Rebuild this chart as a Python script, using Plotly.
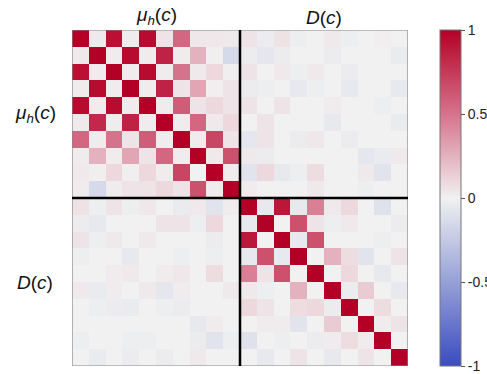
import plotly.graph_objects as go

labels = ["μh(c)", "D(c)"]

# upper-left block (mu_h vs mu_h)
mu_mu = [
    [1.00, 0.03, 0.93, 0.02, 0.95, 0.05, 0.55, 0.04, 0.04, 0.03],
    [0.03, 1.00, 0.02, 0.95, 0.02, 0.85, 0.02, 0.25, 0.01, -0.15],
    [0.93, 0.02, 1.00, 0.02, 0.95, 0.02, 0.50, 0.03, 0.10, 0.01],
    [0.02, 0.95, 0.02, 1.00, 0.02, 0.85, 0.05, 0.30, 0.01, 0.05],
    [0.95, 0.02, 0.95, 0.02, 1.00, 0.02, 0.60, 0.05, 0.10, 0.05],
    [0.03, 0.82, 0.02, 0.85, 0.02, 1.00, 0.02, 0.55, 0.03, 0.10],
    [0.55, 0.02, 0.50, 0.05, 0.60, 0.02, 1.00, 0.02, 0.70, 0.05],
    [0.02, 0.25, 0.02, 0.30, 0.05, 0.55, 0.02, 1.00, 0.03, 0.65],
    [0.03, 0.01, 0.10, 0.01, 0.10, 0.02, 0.70, 0.00, 1.00, 0.02],
    [0.02, -0.15, 0.02, 0.05, 0.05, 0.10, 0.05, 0.65, 0.02, 1.00],
]

# upper-right block (mu_h rows vs D cols)
mu_d = [
    [0.05, -0.03, 0.06, -0.02, 0.00, 0.03, -0.02, 0.00, 0.01, 0.00],
    [-0.03, -0.06, -0.03, 0.00, 0.00, -0.03, 0.00, 0.00, 0.00, -0.04],
    [0.05, 0.00, 0.03, -0.02, 0.03, 0.00, -0.03, 0.00, 0.00, 0.00],
    [-0.03, -0.02, 0.00, -0.05, -0.02, 0.00, -0.05, 0.00, 0.00, -0.05],
    [0.05, 0.00, 0.05, 0.00, 0.00, 0.02, 0.00, 0.00, -0.02, 0.00],
    [0.00, 0.05, 0.00, 0.00, 0.00, -0.05, 0.00, 0.00, 0.00, -0.04],
    [-0.06, 0.05, 0.00, -0.03, 0.04, 0.00, -0.03, 0.00, 0.00, 0.00],
    [0.03, -0.03, 0.00, 0.00, 0.00, 0.00, 0.00, -0.06, -0.04, 0.03],
    [-0.08, 0.10, -0.05, -0.02, 0.08, 0.00, 0.00, 0.03, -0.08, 0.00],
    [0.02, 0.00, 0.00, 0.00, 0.03, 0.00, 0.00, -0.02, 0.00, 0.00],
]

# lower-left block (D rows vs mu_h cols)
d_mu = [
    [0.06, -0.02, 0.05, -0.02, 0.04, 0.00, -0.04, 0.03, -0.08, 0.02],
    [-0.03, -0.05, 0.00, 0.00, 0.00, 0.05, 0.05, -0.02, 0.10, 0.00],
    [0.05, -0.02, 0.03, 0.00, 0.03, 0.00, 0.00, 0.00, -0.03, 0.00],
    [-0.02, 0.00, 0.00, -0.05, 0.00, 0.00, -0.02, 0.00, -0.02, 0.00],
    [0.00, 0.00, 0.02, 0.03, 0.00, 0.02, 0.04, 0.00, 0.08, 0.00],
    [0.03, -0.04, 0.02, 0.00, 0.03, -0.06, 0.02, 0.00, 0.00, 0.03],
    [0.00, -0.02, -0.03, -0.04, 0.00, -0.02, -0.03, 0.00, 0.00, 0.00],
    [0.00, 0.00, 0.00, 0.00, 0.00, 0.00, 0.00, -0.05, 0.02, 0.00],
    [-0.02, 0.00, 0.00, -0.02, -0.02, 0.00, 0.00, -0.03, -0.08, -0.02],
    [0.00, -0.04, 0.00, -0.03, 0.00, -0.03, 0.00, 0.03, 0.00, 0.00],
]

# lower-right block (D vs D)
d_d = [
    [1.00, -0.05, 0.90, -0.05, 0.45, 0.03, 0.10, 0.00, -0.10, 0.00],
    [-0.05, 1.00, 0.00, 0.65, 0.05, -0.02, 0.03, 0.00, 0.00, -0.03],
    [0.90, 0.00, 1.00, -0.05, 0.65, 0.00, 0.00, 0.00, -0.02, 0.00],
    [-0.05, 0.65, -0.05, 1.00, 0.00, 0.25, 0.08, -0.08, 0.00, 0.05],
    [0.45, 0.05, 0.65, 0.00, 1.00, 0.00, 0.10, 0.00, -0.05, 0.00],
    [0.03, -0.02, 0.00, 0.25, 0.00, 1.00, -0.03, 0.15, 0.00, -0.05],
    [0.10, 0.05, 0.00, 0.08, 0.10, -0.03, 1.00, 0.00, 0.08, 0.00],
    [0.00, 0.02, 0.02, -0.08, 0.00, 0.15, 0.00, 1.00, 0.02, 0.05],
    [-0.10, 0.00, -0.02, 0.00, -0.03, 0.02, 0.08, 0.02, 1.00, 0.00],
    [0.00, -0.05, 0.00, 0.05, 0.00, -0.05, 0.00, 0.05, 0.00, 1.00],
]

cb_ticks = [-1, -0.5, 0, 0.5, 1]
cb_ticktext = ["-1", "-0.5", "0", "0.5", "1"]

z = [a + b for a, b in zip(mu_mu, mu_d)] + [a + b for a, b in zip(d_mu, d_d)]
n = len(z)

colorscale = [
    [0.0, "rgb(58,76,192)"],
    [0.25, "rgb(150,160,215)"],
    [0.5, "rgb(241,241,241)"],
    [0.75, "rgb(214,115,140)"],
    [1.0, "rgb(180,0,38)"],
]

fig = go.Figure(go.Heatmap(
    z=z, x=list(range(n)), y=list(range(n)),
    zmin=-1, zmax=1, colorscale=colorscale,
    colorbar=dict(
        x=1.095, xanchor="left", y=0.5, yanchor="middle", len=1, lenmode="fraction",
        thickness=21, xpad=0, ypad=0, outlinewidth=1, outlinecolor="#777",
        tickvals=cb_ticks, ticktext=cb_ticktext, ticks="outside", ticklen=4,
        tickcolor="#555", tickfont=dict(family="Liberation Sans, Arial", size=14, color="#222"),
    ),
))

half = n / 2 - 0.5
fig.add_shape(type="rect", x0=-0.5, x1=n - 0.5, y0=-0.5, y1=n - 0.5,
              line=dict(color="#888", width=1.2))
fig.add_shape(type="line", x0=half, x1=half, y0=-0.5, y1=n - 0.5,
              line=dict(color="black", width=2.5))
fig.add_shape(type="line", x0=-0.5, x1=n - 0.5, y0=half, y1=half,
              line=dict(color="black", width=2.5))

font = dict(family="Liberation Sans, Arial", size=19, color="#111")
mu_txt = "<i>μ</i><sub><i>h</i></sub>(<i>c</i>)"
d_txt = "<i>D</i>(<i>c</i>)"
for txt, pos in [(mu_txt, 0.25), (d_txt, 0.75)]:
    fig.add_annotation(text=txt, x=pos, y=1.0, xref="paper", yref="paper",
                       xanchor="center", yanchor="bottom", yshift=0,
                       showarrow=False, font=font)
    fig.add_annotation(text=txt, x=-0.11, y=1 - pos, xref="paper", yref="paper",
                       xanchor="center", yanchor="middle",
                       showarrow=False, font=font)

fig.update_xaxes(visible=False, range=[-0.5, n - 0.5])
fig.update_yaxes(visible=False, range=[n - 0.5, -0.5])
fig.update_layout(
    width=487, height=374,
    margin=dict(l=72, r=79, t=30, b=8, autoexpand=False),
    paper_bgcolor="white", plot_bgcolor="white",
)
fig.write_html("out.html")
